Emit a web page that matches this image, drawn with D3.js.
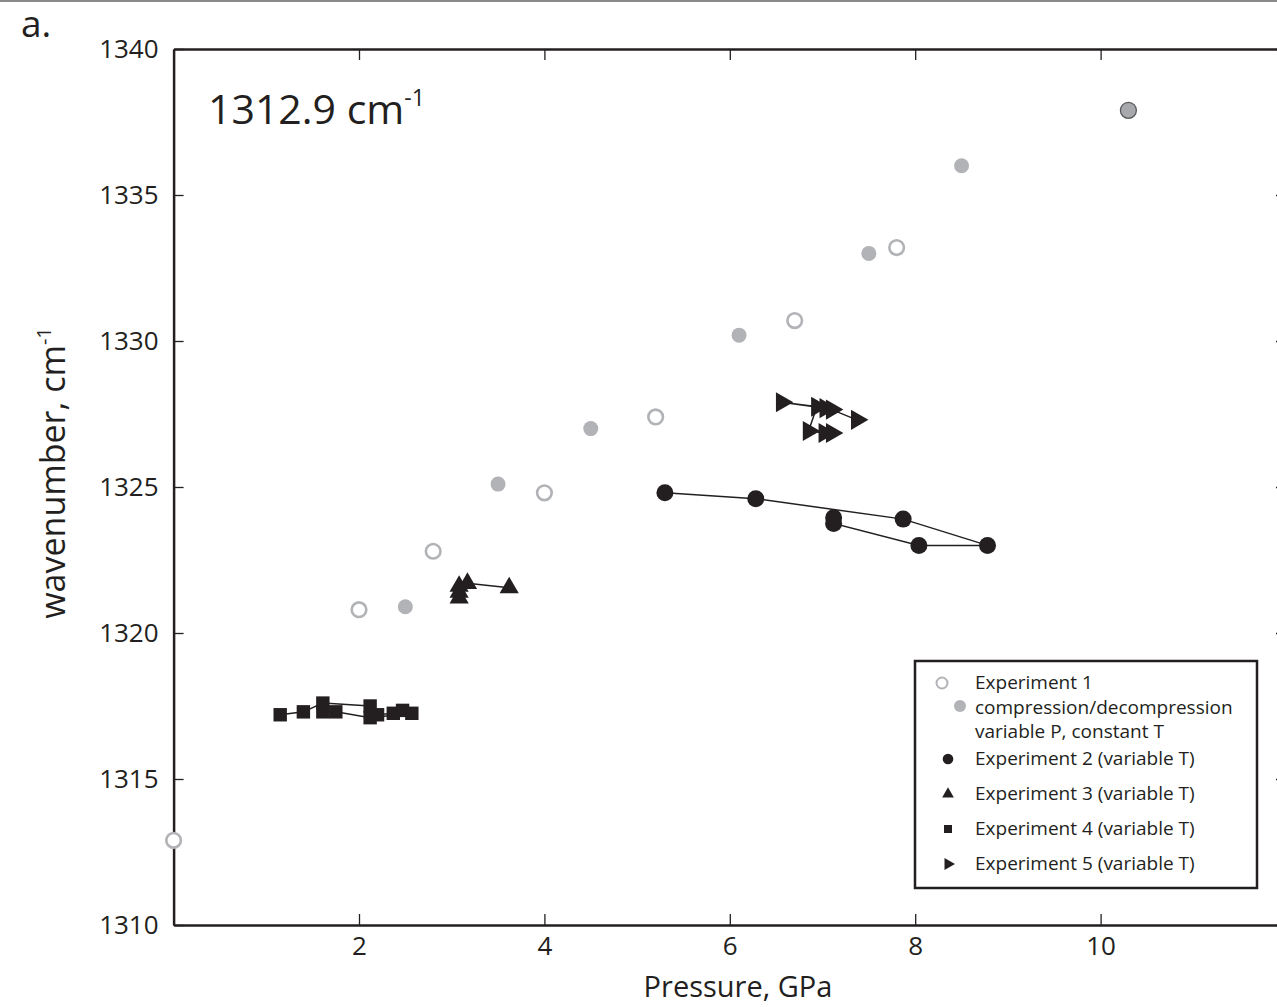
<!DOCTYPE html>
<html>
<head>
<meta charset="utf-8">
<script src="https://cdn.jsdelivr.net/npm/d3@7"></script>
<style>
  body { margin: 0; background: #fff; }
  svg { display: block; font-family: "Open Sans", sans-serif; }
  .axis path { stroke: #231f20; stroke-width: 2.5; }
  .axis line { stroke: #231f20; stroke-width: 1.3; }
  .axis text { fill: #231f20; font-size: 26px; font-family: "Open Sans", sans-serif; }
</style>
</head>
<body>
<script>
// Experiment 1 (variable P, constant T): open = compression, filled = decompression
const exp1Open = [[0, 1312.9], [2.0, 1320.8], [2.8, 1322.8], [4.0, 1324.8], [5.2, 1327.4], [6.7, 1330.7], [7.8, 1333.2]];
const exp1Filled = [[2.5, 1320.9], [3.5, 1325.1], [4.5, 1327.0], [6.1, 1330.2], [7.5, 1333.0], [8.5, 1336.0]];
const exp1Outlined = [[10.3, 1337.9]];
// variable T runs (drawn joined in sequence)
const exp2 = [[5.3, 1324.8], [6.28, 1324.6], [7.87, 1323.9], [8.78, 1323.0], [8.04, 1323.0], [7.12, 1323.75], [7.12, 1323.95]];
const exp3 = [[3.08, 1321.2], [3.08, 1321.4], [3.08, 1321.6], [3.17, 1321.7], [3.62, 1321.55]];
const exp4 = [[1.15, 1317.2], [1.4, 1317.3], [1.61, 1317.6], [2.12, 1317.5], [2.2, 1317.2], [2.37, 1317.25],
  [2.47, 1317.35], [2.57, 1317.25], [2.12, 1317.1], [1.75, 1317.3], [1.61, 1317.3]];
const exp5 = [[7.1, 1326.85], [7.02, 1326.85], [6.85, 1326.92], [6.94, 1327.75], [6.56, 1327.9],
  [7.03, 1327.7], [7.1, 1327.65], [7.37, 1327.3]];

const xTicks = [2, 4, 6, 8, 10];
const yTicks = [1310, 1315, 1320, 1325, 1330, 1335, 1340];
const legendLabels = [
  ["Experiment 1", "compression/decompression", "variable P, constant T"],
  "Experiment 2 (variable T)",
  "Experiment 3 (variable T)",
  "Experiment 4 (variable T)",
  "Experiment 5 (variable T)"
];

const W = 1277, H = 1007;
const ink = "#231f20", grey = "#b1b3b6";
const margin = { left: 173.6, top: 49, right: 1286, bottom: 925 };

const x = d3.scaleLinear().domain([0, 12]).range([margin.left, margin.right]);
const y = d3.scaleLinear().domain([1310, 1340]).range([margin.bottom, margin.top]);

const svg = d3.select("body").append("svg").attr("width", W).attr("height", H);

// thin rule across the very top of the figure
svg.append("line").attr("x1", 0).attr("x2", W).attr("y1", 1).attr("y2", 1)
  .attr("stroke", "#8a8a8a").attr("stroke-width", 2);

svg.append("g").attr("class", "axis")
  .attr("transform", "translate(0," + margin.bottom + ")")
  .call(d3.axisBottom(x).tickValues(xTicks).tickSize(-11).tickSizeOuter(0).tickPadding(12).tickFormat(d3.format("d")));
svg.append("g").attr("class", "axis")
  .attr("transform", "translate(0," + margin.top + ")")
  .call(d3.axisTop(x).tickValues(xTicks).tickSize(-11).tickSizeOuter(0).tickFormat(""));
svg.append("g").attr("class", "axis")
  .attr("transform", "translate(" + margin.left + ",0)")
  .call(d3.axisLeft(y).tickValues(yTicks).tickSize(-10).tickSizeOuter(0).tickPadding(15).tickFormat(d3.format("d")));
svg.append("g").attr("class", "axis")
  .attr("transform", "translate(" + margin.right + ",0)")
  .call(d3.axisRight(y).tickValues(yTicks).tickSize(-10).tickSizeOuter(0).tickFormat(""));

svg.selectAll(".axis text").attr("font-family", "Open Sans");

// axis titles
svg.append("text").attr("x", 738).attr("y", 997).attr("text-anchor", "middle")
  .attr("fill", ink).style("font-size", "29px").text("Pressure, GPa");
const yt = svg.append("text").attr("transform", "translate(65,473) rotate(-90)")
  .attr("text-anchor", "middle").attr("fill", ink).style("font-size", "34px");
yt.append("tspan").text("wavenumber, cm");
yt.append("tspan").attr("dy", -14).style("font-size", "20px").text("-1");

svg.append("text").attr("x", 21).attr("y", 37).attr("fill", ink).style("font-size", "37px").text("a.");
const inset = svg.append("text").attr("x", 208).attr("y", 124).attr("fill", ink).style("font-size", "41px");
inset.append("tspan").text("1312.9 cm");
inset.append("tspan").attr("dy", -18).style("font-size", "23px").text("-1");

// connecting lines of the variable-T runs
const line = d3.line().x(d => x(d[0])).y(d => y(d[1]));
[exp2, exp3, exp4, exp5].forEach(s => {
  svg.append("path").attr("d", line(s)).attr("fill", "none").attr("stroke", ink).attr("stroke-width", 1.5);
});

const tri = d3.symbol().type(d3.symbolTriangle);
const sq = d3.symbol().type(d3.symbolSquare);

svg.append("g").selectAll("circle").data(exp1Open).join("circle")
  .attr("cx", d => x(d[0])).attr("cy", d => y(d[1])).attr("r", 7.3)
  .attr("fill", "#fff").attr("stroke", grey).attr("stroke-width", 2.6);
svg.append("g").selectAll("circle").data(exp1Filled).join("circle")
  .attr("cx", d => x(d[0])).attr("cy", d => y(d[1])).attr("r", 7.5).attr("fill", grey);
svg.append("g").selectAll("circle").data(exp1Outlined).join("circle")
  .attr("cx", d => x(d[0])).attr("cy", d => y(d[1])).attr("r", 8)
  .attr("fill", "#a7a9ac").attr("stroke", "#58595b").attr("stroke-width", 1.3);

svg.append("g").selectAll("circle").data(exp2).join("circle")
  .attr("cx", d => x(d[0])).attr("cy", d => y(d[1])).attr("r", 8.5).attr("fill", ink);
svg.append("g").selectAll("path").data(exp3).join("path")
  .attr("d", tri.size(160)).attr("fill", ink)
  .attr("transform", d => "translate(" + x(d[0]) + "," + y(d[1]) + ")");
svg.append("g").selectAll("path").data(exp4).join("path")
  .attr("d", sq.size(180)).attr("fill", ink)
  .attr("transform", d => "translate(" + x(d[0]) + "," + y(d[1]) + ")");
svg.append("g").selectAll("path").data(exp5).join("path")
  .attr("d", tri.size(175)).attr("fill", ink)
  .attr("transform", d => "translate(" + x(d[0]) + "," + y(d[1]) + ") rotate(90)");

// legend
const lg = svg.append("g");
lg.append("rect").attr("x", 915).attr("y", 661).attr("width", 342).attr("height", 227)
  .attr("fill", "#fff").attr("stroke", ink).attr("stroke-width", 2.5);
lg.append("circle").attr("cx", 942).attr("cy", 683).attr("r", 5.5)
  .attr("fill", "#fff").attr("stroke", grey).attr("stroke-width", 2);
lg.append("circle").attr("cx", 960).attr("cy", 706).attr("r", 6).attr("fill", grey);
const lt = lg.append("text").attr("fill", ink).style("font-size", "19px");
legendLabels[0].forEach((s, i) => lt.append("tspan").attr("x", 975).attr("y", 689 + i * 24.5).text(s));
const rowY = [759, 794, 829, 864];
legendLabels.slice(1).forEach((s, i) => {
  lg.append("text").attr("x", 975).attr("y", rowY[i] + 6).attr("fill", ink).style("font-size", "19px").text(s);
});
lg.append("circle").attr("cx", 948).attr("cy", rowY[0]).attr("r", 5.3).attr("fill", ink);
lg.append("path").attr("d", tri.size(60)).attr("fill", ink).attr("transform", "translate(948," + rowY[1] + ")");
lg.append("path").attr("d", sq.size(64)).attr("fill", ink).attr("transform", "translate(948," + rowY[2] + ")");
lg.append("path").attr("d", tri.size(64)).attr("fill", ink).attr("transform", "translate(948," + rowY[3] + ") rotate(90)");
</script>
</body>
</html>
